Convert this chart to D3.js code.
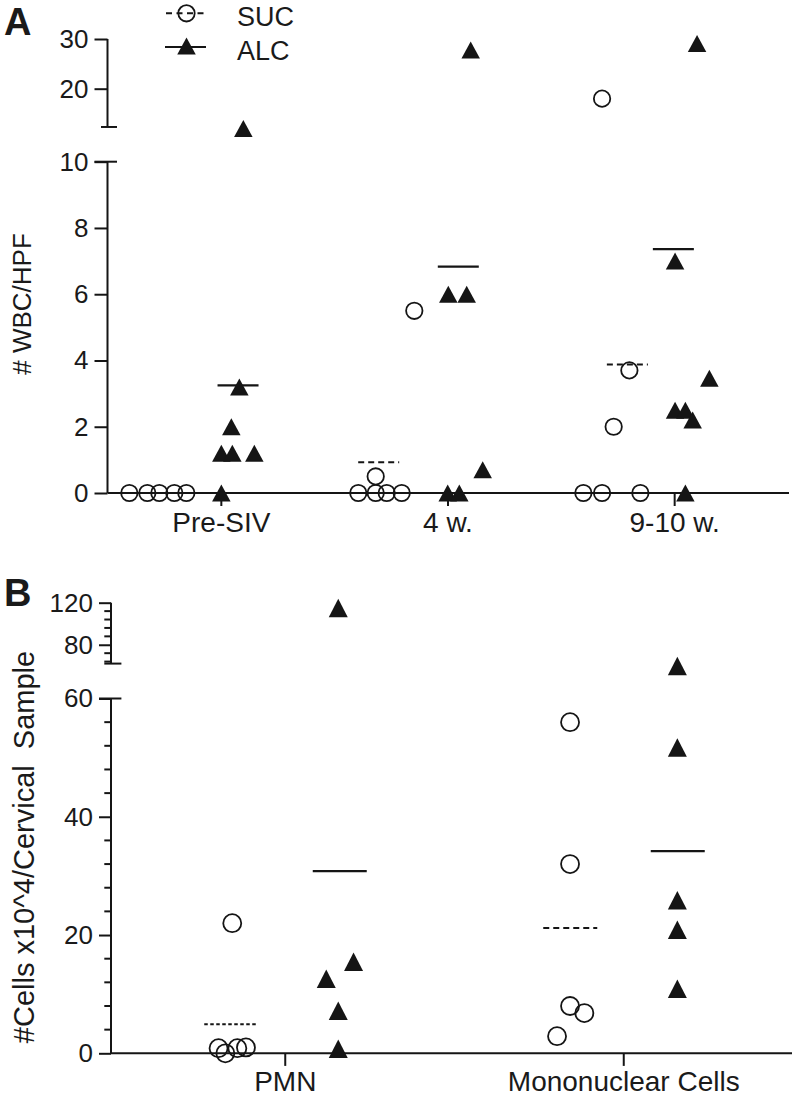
<!DOCTYPE html>
<html><head><meta charset="utf-8">
<script src="https://cdn.jsdelivr.net/npm/d3@7"></script>
<style>
body{margin:0;background:#fff}
svg{display:block}
text{font-family:"Liberation Sans",Arial,sans-serif;fill:#1a1a1a}
</style>
</head><body>
<svg id="chart" width="792" height="1096"></svg>
<script>
// ---------------- Panel A data ----------------
const catsA = ["Pre-SIV", "4 w.", "9-10 w."];
const sucA = [[0, 0, 0, 0, 0], [0, 0, 0, 0, 0.5, 5.5], [0, 0, 0, 2, 3.7, 18]];
const alcA = [[12, 3.2, 2, 1.2, 1.2, 1.2, 0], [27.8, 6, 6, 0.7, 0, 0], [29.1, 7, 3.46, 2.5, 2.5, 2.2, 0]];
const sucMeanA = [0, 0.93, 3.88];
const alcMeanA = [3.25, 6.83, 7.36];
const ticksLowA = [0, 2, 4, 6, 8, 10];
const ticksHighA = [20, 30];
// ---------------- Panel B data ----------------
const catsB = ["PMN", "Mononuclear Cells"];
const sucB = [[22, 0.86, 0, 0.86, 1.0], [56, 32, 8, 6.8, 2.9]];
const alcB = [[115, 12.6, 15.5, 7.2, 0.75], [65.5, 51.7, 25.9, 20.9, 10.9]];
const sucMeanB = [4.9, 21.2];
const alcMeanB = [30.8, 34.2];
const ticksLowB = [0, 20, 40, 60];
const ticksHighB = [80, 120];
const legendLabels = ["SUC", "ALC"];

// ---------------- layout (horizontal scatter offsets, px) ----------------
const sucA_dx = [[-92, -74, -62, -47, -35], [-89.7, -72.3, -61.3, -46.3, -72.3, -33.7], [-91.3, -72.6, -34.3, -61, -45.3, -72.6]];
const alcA_dx = [[22, 18, 10, 0, 11, 33, 0], [22.7, 0.3, 18.7, 34.7, -0.3, 11.3], [22.4, 0.4, 34.7, 0.4, 10.7, 18, 10.7]];
const sucMeanA_dx = [-62, -69.3, -47.3];
const alcMeanA_dx = [16.7, 10.3, -1.3];
const sucB_dx = [[-53, -66.7, -59.9, -47.9, -39.3], [-53.7, -53.7, -53.7, -39.4, -66.7]];
const alcB_dx = [[53, 41, 68.3, 53, 53], [53.6, 53.6, 53.6, 53.6, 53.6]];
const sucMeanB_dx = [-54, -53.5];
const alcMeanB_dx = [54.5, 54];

const INK = "#151515";
const svg = d3.select("#chart");

function tri(w, h) { return `M0,${-h/2}L${w/2},${h/2}L${-w/2},${h/2}Z`; }

function styleAxis(g, fs) {
  g.select(".domain").remove();
  g.selectAll(".tick line").attr("stroke", INK).attr("stroke-width", 2);
  g.selectAll(".tick text").attr("font-size", fs).attr("fill", "#1a1a1a")
    .attr("font-family", '"Liberation Sans", Arial, sans-serif');
}

function panel(cfg) {
  const g = svg.append("g");
  const x = d3.scaleBand().domain(cfg.cats).range(cfg.xRange);
  const cx = c => x(c) + x.bandwidth() / 2;
  const yLow = d3.scaleLinear().domain(cfg.lowDomain).range(cfg.lowRange);
  const yHigh = d3.scaleLinear().domain(cfg.highDomain).range(cfg.highRange);
  const y = v => v >= cfg.breakAt ? yHigh(v) : yLow(v);
  const ax = cfg.axisX;

  // y axis lower segment
  const gl = g.append("g").attr("transform", `translate(${ax},0)`)
    .call(d3.axisLeft(yLow).tickValues(cfg.ticksLow).tickSize(cfg.tick).tickPadding(6).tickSizeOuter(0));
  styleAxis(gl, cfg.tickFont);
  const gh = g.append("g").attr("transform", `translate(${ax},0)`)
    .call(d3.axisLeft(yHigh).tickValues(cfg.ticksHigh).tickSize(cfg.tick).tickPadding(6).tickSizeOuter(0));
  styleAxis(gh, cfg.tickFont);
  // minor ticks
  if (cfg.minorLow) {
    g.append("g").selectAll("line").data(cfg.minorLow).join("line")
      .attr("x1", ax - cfg.minor).attr("x2", ax).attr("y1", d => yLow(d)).attr("y2", d => yLow(d))
      .attr("stroke", INK).attr("stroke-width", 2);
    g.append("g").selectAll("line").data(cfg.minorHigh).join("line")
      .attr("x1", ax - cfg.minor).attr("x2", ax).attr("y1", d => yHigh(d)).attr("y2", d => yHigh(d))
      .attr("stroke", INK).attr("stroke-width", 2);
  }
  const lowTop = cfg.lowDomain[1];
  // axis lines
  g.append("line").attr("x1", ax).attr("x2", ax).attr("y1", yLow(0)).attr("y2", yLow(lowTop)).attr("stroke", INK).attr("stroke-width", 2);
  g.append("line").attr("x1", ax).attr("x2", ax).attr("y1", yHigh(cfg.highBottom)).attr("y2", yHigh(cfg.highDomain[1])).attr("stroke", INK).attr("stroke-width", 2);
  // caps
  g.append("line").attr("x1", ax - cfg.tick).attr("x2", ax + cfg.capR).attr("y1", yLow(lowTop)).attr("y2", yLow(lowTop)).attr("stroke", INK).attr("stroke-width", 2);
  g.append("line").attr("x1", ax - cfg.capL).attr("x2", ax + cfg.capR).attr("y1", yHigh(cfg.highBottom)).attr("y2", yHigh(cfg.highBottom)).attr("stroke", INK).attr("stroke-width", 2);

  // x axis
  const y0 = yLow(0);
  g.append("line").attr("x1", ax).attr("x2", cfg.xEnd).attr("y1", y0).attr("y2", y0).attr("stroke", INK).attr("stroke-width", 2);
  const gx = g.append("g").attr("transform", `translate(0,${y0})`)
    .call(d3.axisBottom(x).tickSize(cfg.xTick).tickPadding(cfg.xPad).tickSizeOuter(0));
  styleAxis(gx, cfg.xFont);

  // mean lines
  cfg.cats.forEach((c, i) => {
    g.append("line").attr("x1", cx(c) + cfg.sucMeanDx[i] - cfg.meanHalf).attr("x2", cx(c) + cfg.sucMeanDx[i] + cfg.meanHalf)
      .attr("y1", y(cfg.sucMean[i])).attr("y2", y(cfg.sucMean[i]))
      .attr("stroke", INK).attr("stroke-width", 2).attr("stroke-dasharray", cfg.dash[i]);
    g.append("line").attr("x1", cx(c) + cfg.alcMeanDx[i] - cfg.meanHalf).attr("x2", cx(c) + cfg.alcMeanDx[i] + cfg.meanHalf)
      .attr("y1", y(cfg.alcMean[i])).attr("y2", y(cfg.alcMean[i]))
      .attr("stroke", INK).attr("stroke-width", 2.2);
  });

  // points
  const sucPts = cfg.cats.flatMap((c, i) => cfg.suc[i].map((v, j) => ({c, v, dx: cfg.sucDx[i][j]})));
  const alcPts = cfg.cats.flatMap((c, i) => cfg.alc[i].map((v, j) => ({c, v, dx: cfg.alcDx[i][j]})));
  g.append("g").selectAll("circle").data(sucPts).join("circle")
    .attr("cx", d => cx(d.c) + d.dx).attr("cy", d => y(d.v)).attr("r", cfg.r)
    .attr("fill", "none").attr("stroke", INK).attr("stroke-width", 1.8);
  g.append("g").selectAll("path").data(alcPts).join("path")
    .attr("d", tri(cfg.tw, cfg.th))
    .attr("transform", d => `translate(${cx(d.c) + d.dx},${y(d.v)})`)
    .attr("fill", INK);

  // y title
  g.append("text").attr("transform", `translate(${cfg.titleX},${cfg.titleY}) rotate(-90)`)
    .attr("text-anchor", "middle").attr("font-size", cfg.titleFont)
    .style("white-space", "pre").attr("xml:space", "preserve").text(cfg.title);
  // panel letter
  g.append("text").attr("x", 4).attr("y", cfg.letterY).attr("font-size", 38).attr("font-weight", "bold")
    .attr("fill", "#000").text(cfg.letter);
}

panel({
  cats: catsA, xRange: [108, 788], xEnd: 789, axisX: 107.5,
  lowDomain: [0, 10], lowRange: [493, 161.7], highDomain: [10, 30], highRange: [138.4, 39],
  highBottom: 12.3, breakAt: 10.5,
  ticksLow: ticksLowA, ticksHigh: ticksHighA, tick: 13, capR: 9.5, capL: 6.5,
  tickFont: 26, xFont: 28, xTick: 13, xPad: 6,
  suc: sucA, alc: alcA, sucDx: sucA_dx, alcDx: alcA_dx,
  sucMean: sucMeanA, alcMean: alcMeanA, sucMeanDx: sucMeanA_dx, alcMeanDx: alcMeanA_dx,
  meanHalf: 20.5, dash: ["6,4", "6,4", "6,4"],
  r: 8.2, tw: 18.5, th: 17,
  title: "# WBC/HPF", titleX: 31, titleY: 304, titleFont: 26,
  letter: "A", letterY: 35
});

panel({
  cats: catsB, xRange: [116, 793], xEnd: 792, axisX: 111,
  lowDomain: [0, 60], lowRange: [1053.3, 698.5], highDomain: [60, 120], highRange: [665.8, 602.7],
  highBottom: 62.1, breakAt: 70,
  ticksLow: ticksLowB, ticksHigh: ticksHighB, tick: 12, capR: 10.4, capL: 6.7,
  minorLow: d3.range(4, 60, 4).filter(v => v % 20 !== 0), minorHigh: [64, 72, 88, 96, 104, 112], minor: 6.7,
  tickFont: 26, xFont: 28, xTick: 12.6, xPad: 5,
  suc: sucB, alc: alcB, sucDx: sucB_dx, alcDx: alcB_dx,
  sucMean: sucMeanB, alcMean: alcMeanB, sucMeanDx: sucMeanB_dx, alcMeanDx: alcMeanB_dx,
  meanHalf: 27, dash: ["3.5,2.5", "6,4"],
  r: 9, tw: 19, th: 18.5,
  title: "#Cells x10^4/Cervical\u00a0 Sample", titleX: 34, titleY: 847, titleFont: 29,
  letter: "B", letterY: 606
});

// legend
const leg = svg.append("g");
const legY = [13.3, 47];
leg.append("line").attr("x1", 166).attr("x2", 206).attr("y1", legY[0]).attr("y2", legY[0])
  .attr("stroke", INK).attr("stroke-width", 2).attr("stroke-dasharray", "6,4.5");
leg.append("circle").attr("cx", 186.5).attr("cy", legY[0]).attr("r", 8.2).attr("fill", "none").attr("stroke", INK).attr("stroke-width", 1.8);
leg.append("line").attr("x1", 165).attr("x2", 206).attr("y1", legY[1]).attr("y2", legY[1]).attr("stroke", INK).attr("stroke-width", 2.2);
leg.append("path").attr("d", tri(18.5, 17)).attr("transform", `translate(186.5,${legY[1] - 1})`).attr("fill", INK);
leg.selectAll("text").data(legendLabels).join("text")
  .attr("x", 237).attr("y", (d, i) => legY[i] + 12.5).attr("font-size", 27).text(d => d);
</script>
</body></html>
